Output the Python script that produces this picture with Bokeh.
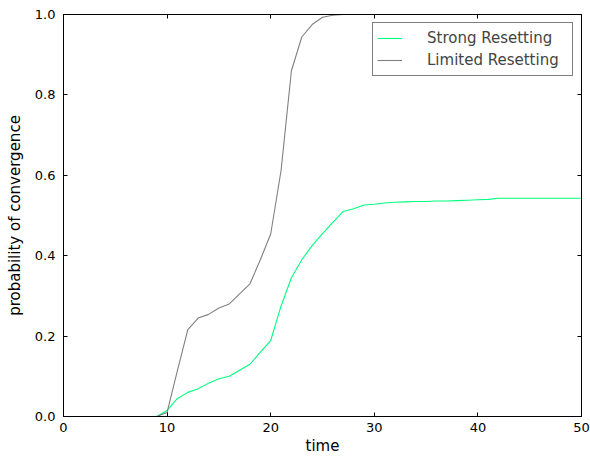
from bokeh.plotting import figure
from bokeh.models import Range1d, FixedTicker, LinearAxis, Legend, LegendItem, PrintfTickFormatter
from bokeh.embed import file_html
from bokeh.resources import INLINE

time = list(range(0, 51))
strong = [0, 0, 0, 0, 0, 0, 0, 0, 0, 0,
          0.015, 0.045, 0.06, 0.069, 0.083, 0.094, 0.1, 0.115, 0.13, 0.16,
          0.189, 0.275, 0.345, 0.39, 0.425, 0.455, 0.483, 0.51, 0.517, 0.526,
          0.528, 0.531, 0.533, 0.534, 0.535, 0.535, 0.536, 0.536, 0.537, 0.538,
          0.539, 0.54, 0.543, 0.543, 0.543, 0.543, 0.543, 0.543, 0.543, 0.543, 0.543]
limited = [0, 0, 0, 0, 0, 0, 0, 0, 0, 0,
           0.01, 0.115, 0.216, 0.245, 0.254, 0.27, 0.28, 0.305, 0.33, 0.39,
           0.454, 0.612, 0.86, 0.944, 0.975, 0.993, 0.998, 1.0, 1.0, 1.0,
           1.0, 1.0, 1.0, 1.0, 1.0, 1.0, 1.0, 1.0, 1.0, 1.0,
           1.0, 1.0, 1.0, 1.0, 1.0, 1.0, 1.0, 1.0, 1.0, 1.0, 1.0]
x_ticks = [0, 10, 20, 30, 40, 50]
y_ticks = [0.0, 0.2, 0.4, 0.6, 0.8, 1.0]

FONT = "DejaVu Sans"

p = figure(width=590, height=458, output_backend="svg", toolbar_location=None,
           x_range=Range1d(0, 50), y_range=Range1d(0, 1),
           min_border_left=63, min_border_right=9, min_border_top=14, min_border_bottom=42)
p.xgrid.visible = False
p.ygrid.visible = False
p.outline_line_color = "black"
p.outline_line_width = 1
p.background_fill_color = "white"
p.border_fill_color = "white"

r1 = p.line(time, strong, line_color="#00ff7f", line_width=1.1)
r2 = p.line(time, limited, line_color="#808080", line_width=1.1)

def style_axis(ax, ticks, show_labels=True):
    ax.ticker = FixedTicker(ticks=ticks)
    ax.major_tick_in = 4
    ax.major_tick_out = 0
    ax.minor_tick_in = 0
    ax.minor_tick_out = 0
    ax.axis_line_color = "black"
    ax.major_tick_line_color = "black"
    ax.major_label_text_font = FONT
    ax.major_label_text_font_size = "13px"
    ax.major_label_text_color = "black"
    ax.axis_label_text_font = FONT
    ax.axis_label_text_font_size = "15px"
    ax.axis_label_text_font_style = "normal"
    ax.axis_label_text_color = "black"
    if not show_labels:
        ax.major_label_overrides = {t: "" for t in ticks}
        ax.major_label_standoff = 0

xa = p.xaxis[0]
style_axis(xa, x_ticks)
xa.axis_label = "time"
xa.major_label_standoff = 6
xa.axis_label_standoff = 2

ya = p.yaxis[0]
style_axis(ya, y_ticks)
ya.axis_label = "probability of convergence"
ya.formatter = PrintfTickFormatter(format="%.1f")
ya.major_label_standoff = 8
ya.axis_label_standoff = 8

top = LinearAxis()
p.add_layout(top, "above")
style_axis(top, x_ticks, show_labels=False)
right = LinearAxis()
p.add_layout(right, "right")
style_axis(right, y_ticks, show_labels=False)

legend = Legend(items=[LegendItem(label="Strong Resetting", renderers=[r1]),
                       LegendItem(label="Limited Resetting", renderers=[r2])],
                location="top_right")
legend.label_text_font = FONT
legend.label_text_font_size = "15px"
legend.border_line_color = "black"
legend.border_line_width = 1
legend.background_fill_alpha = 1
legend.margin = 8
legend.padding = 4
legend.spacing = 0
legend.glyph_width = 25
legend.glyph_height = 22
legend.label_height = 22
legend.label_standoff = 25
legend.label_width = 141
p.add_layout(legend)

open("out.html", "w").write(file_html(p, INLINE))
